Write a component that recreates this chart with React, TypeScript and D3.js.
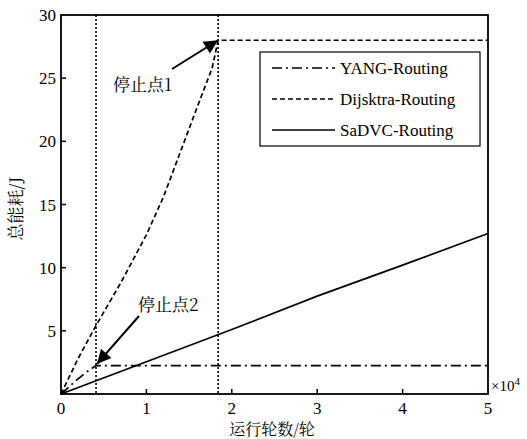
import React, { useEffect, useRef } from "react";
import * as d3 from "d3";

// values (x in units of 10^4 rounds, y in J)
const stopPoints = [0.41, 1.84];
const yangX = [0, 0.1, 0.2, 0.3, 0.41, 5];
const yangY = [0, 0.6, 1.2, 1.75, 2.25, 2.25];
const dijX = [0, 0.2, 0.4, 0.7, 1.0, 1.2, 1.4, 1.6, 1.77, 1.84, 5];
const dijY = [0, 2.8, 5.3, 8.8, 12.6, 15.6, 19.2, 22.8, 25.8, 28, 28];
const sadX = [0, 1, 2, 3, 4, 5];
const sadY = [0, 2.55, 5.1, 7.75, 10.2, 12.7];
const xTicks = [0, 1, 2, 3, 4, 5];
const yTicks = [5, 10, 15, 20, 25, 30];
const legendNames = ["YANG-Routing", "Dijsktra-Routing", "SaDVC-Routing"];
const legendDash = ["10,4,2,4", "5,3", null];

const LATIN = "'Liberation Serif', 'Times New Roman', serif";
const CJK = "'Noto Serif CJK SC', 'Noto Sans CJK SC', sans-serif";

export default function App() {
  const svgRef = useRef<SVGSVGElement>(null);

  useEffect(() => {
    const svg = d3.select(svgRef.current);
    svg.selectAll("*").remove();

    const margin = { left: 61, top: 15, right: 39, bottom: 45 };
    const W = 527, H = 439;
    const x = d3.scaleLinear().domain([0, 5]).range([margin.left, W - margin.right]);
    const y = d3.scaleLinear().domain([0, 30]).range([H - margin.bottom, margin.top]);

    svg.append("rect").attr("width", W).attr("height", H).attr("fill", "#fff");

    const line = d3.line<[number, number]>().x((d) => x(d[0])).y((d) => y(d[1]));

    // vertical stop lines
    svg.selectAll(".stop")
      .data(stopPoints)
      .enter()
      .append("line")
      .attr("x1", (d) => x(d)).attr("x2", (d) => x(d))
      .attr("y1", y(30)).attr("y2", y(0))
      .attr("stroke", "#000").attr("stroke-width", 1.6)
      .attr("stroke-dasharray", "2,2");

    const series = [
      { xs: yangX, ys: yangY, dash: legendDash[0] },
      { xs: dijX, ys: dijY, dash: legendDash[1] },
      { xs: sadX, ys: sadY, dash: legendDash[2] },
    ];
    series.forEach((s) => {
      const pts = s.xs.map((v, i) => [v, s.ys[i]] as [number, number]);
      svg.append("path")
        .attr("d", line(pts))
        .attr("fill", "none")
        .attr("stroke", "#000")
        .attr("stroke-width", 1.7)
        .attr("stroke-dasharray", s.dash ?? null);
    });

    // frame
    svg.append("rect")
      .attr("x", x(0)).attr("y", y(30))
      .attr("width", x(5) - x(0)).attr("height", y(0) - y(30))
      .attr("fill", "none").attr("stroke", "#000").attr("stroke-width", 1.8);

    // ticks (inward)
    xTicks.slice(1, -1).forEach((t) => {
      svg.append("line").attr("x1", x(t)).attr("x2", x(t))
        .attr("y1", y(0)).attr("y2", y(0) - 5)
        .attr("stroke", "#000").attr("stroke-width", 1.5);
    });
    yTicks.slice(0, -1).forEach((t) => {
      svg.append("line").attr("x1", x(0)).attr("x2", x(0) + 5)
        .attr("y1", y(t)).attr("y2", y(t))
        .attr("stroke", "#000").attr("stroke-width", 1.5);
    });

    svg.selectAll(".xt")
      .data(xTicks)
      .enter()
      .append("text")
      .attr("x", (d) => x(d)).attr("y", y(0) + 20)
      .attr("text-anchor", "middle")
      .attr("font-family", LATIN).attr("font-size", 17)
      .text((d) => d);
    svg.selectAll(".yt")
      .data(yTicks)
      .enter()
      .append("text")
      .attr("x", x(0) - 5).attr("y", (d) => y(d) + 6)
      .attr("text-anchor", "end")
      .attr("font-family", LATIN).attr("font-size", 17)
      .text((d) => d);

    // exponent
    const ex = svg.append("text").attr("x", x(5) + 3).attr("y", y(0) - 3)
      .attr("font-family", LATIN).attr("font-size", 15);
    ex.append("tspan").text("×10");
    ex.append("tspan").attr("dy", -6).attr("font-size", 11).text("4");

    // axis titles
    svg.append("text")
      .attr("x", 272).attr("y", 435)
      .attr("text-anchor", "middle")
      .attr("font-family", CJK).attr("font-size", 16)
      .text("运行轮数/轮");
    svg.append("text")
      .attr("transform", `translate(22, ${(y(0) + y(30)) / 2 + 4}) rotate(-90)`)
      .attr("text-anchor", "middle")
      .attr("font-family", CJK).attr("font-size", 17)
      .text("总能耗/J");

    // legend
    const lg = svg.append("g").attr("transform", "translate(260, 52)");
    lg.append("rect").attr("width", 220).attr("height", 94)
      .attr("fill", "#fff").attr("stroke", "#000").attr("stroke-width", 1.2);
    legendNames.forEach((name, i) => {
      const cy = 16 + i * 31;
      lg.append("line").attr("x1", 12).attr("x2", 75)
        .attr("y1", cy).attr("y2", cy)
        .attr("stroke", "#000").attr("stroke-width", 1.6)
        .attr("stroke-dasharray", legendDash[i] ?? null);
      lg.append("text").attr("x", 80).attr("y", cy + 6)
        .attr("font-family", LATIN).attr("font-size", 17)
        .text(name);
    });

    // annotations
    const defs = svg.append("defs");
    defs.append("marker")
      .attr("id", "arrow").attr("viewBox", "0 0 10 10")
      .attr("refX", 10).attr("refY", 5)
      .attr("markerWidth", 9).attr("markerHeight", 7)
      .attr("markerUnits", "strokeWidth")
      .attr("orient", "auto")
      .append("path").attr("d", "M0,0 L10,5 L0,10 z").attr("fill", "#000");

    svg.append("line")
      .attr("x1", 172).attr("y1", 69).attr("x2", x(stopPoints[1])).attr("y2", y(28))
      .attr("stroke", "#000").attr("stroke-width", 2).attr("marker-end", "url(#arrow)");
    svg.append("text").attr("x", 113).attr("y", 91)
      .attr("font-family", CJK).attr("font-size", 17).text("停止点1");

    svg.append("line")
      .attr("x1", 139).attr("y1", 316).attr("x2", x(stopPoints[0]) + 1).attr("y2", y(2.3) - 1)
      .attr("stroke", "#000").attr("stroke-width", 2).attr("marker-end", "url(#arrow)");
    svg.append("text").attr("x", 138).attr("y", 311)
      .attr("font-family", CJK).attr("font-size", 17).text("停止点2");
  }, []);

  return (
    <div>
      <svg ref={svgRef} width={527} height={439}
        style={{ position: "absolute", left: 0, top: 0 }} />
    </div>
  );
}
